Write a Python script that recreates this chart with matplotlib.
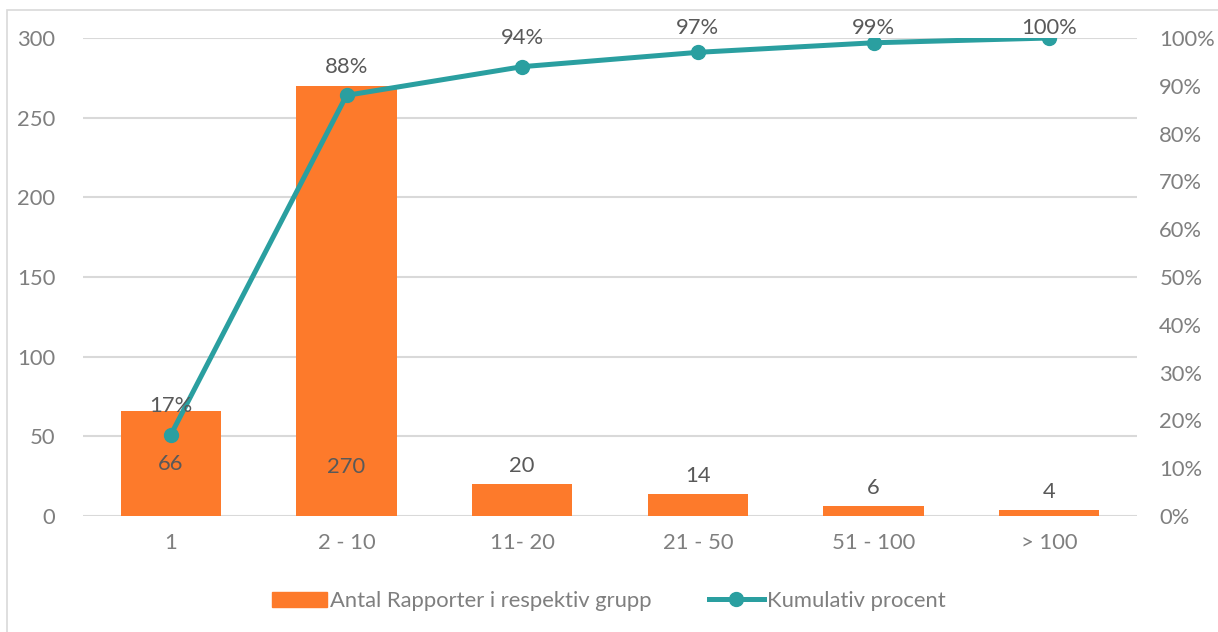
import matplotlib.pyplot as plt
from matplotlib.patches import Rectangle
from matplotlib.lines import Line2D
from matplotlib.patches import Patch

categories = ["1", "2 - 10", "11- 20", "21 - 50", "51 - 100", "> 100"]
antal = [66, 270, 20, 14, 6, 4]
kumulativ = [0.17, 0.88, 0.94, 0.97, 0.99, 1.00]
pct_labels = ["17%", "88%", "94%", "97%", "99%", "100%"]

orange = "#FD7A2B"
teal = "#2A9FA0"
grid = "#D9D9D9"
txt = "#7F7F7F"
lbl = "#595959"
fs = 15.8

plt.rcParams['font.family'] = ['Lato', 'DejaVu Sans']

fig = plt.figure(figsize=(12.18, 6.32), dpi=100)
ax = fig.add_axes([83/1218, 1 - 516/632, (1137 - 83)/1218, (516 - 38)/632])

# light frame round the chart
fig.patches.append(Rectangle((7/1218, -0.05), 1.2, 1 - 10/632 + 0.05, transform=fig.transFigure,
                             fill=False, edgecolor="#D9D9D9", lw=1.2))

x = list(range(len(categories)))
ax.bar(x, antal, width=0.57, color=orange, zorder=2)
ax.set_ylim(0, 300)
ax.set_xlim(-0.5, len(categories) - 0.5)
ax.set_yticks(range(0, 301, 50))
ax.yaxis.grid(True, color=grid, lw=1.5, zorder=0)
ax.set_axisbelow(True)
for s in ax.spines.values():
    s.set_visible(False)
ax.tick_params(length=0, labelsize=fs, colors=txt, pad=20)
ax.tick_params(axis='x', pad=12)
ax.set_xticks(x)
ax.set_xticklabels(categories)

# bar value labels
for i, v in enumerate(antal):
    if i == 0:
        ax.annotate(str(v), (i, v), xytext=(0, -38), textcoords="offset points",
                    ha="center", va="center", fontsize=fs, color=lbl, zorder=5)
    elif i == 1:
        ax.annotate(str(v), (i, 0), xytext=(0, 35), textcoords="offset points",
                    ha="center", va="center", fontsize=fs, color=lbl, zorder=5)
    else:
        ax.annotate(str(v), (i, v), xytext=(0, 13), textcoords="offset points",
                    ha="center", va="center", fontsize=fs, color=lbl, zorder=5)

ax2 = ax.twinx()
ax2.set_position(ax.get_position())
ax2.plot(x, kumulativ, color=teal, lw=3.6, marker="o", markersize=10, zorder=4)
ax2.set_ylim(0, 1)
ax2.set_yticks([i / 10 for i in range(11)])
ax2.set_yticklabels([f"{i * 10}%" for i in range(11)])
for s in ax2.spines.values():
    s.set_visible(False)
ax2.tick_params(length=0, labelsize=fs, colors=txt, pad=16)

for i, (p, lab) in enumerate(zip(kumulativ, pct_labels)):
    ax2.text(i, min(p + 0.06, 1.02), lab, ha="center", va="center",
             fontsize=fs, color=lbl, zorder=6)

handles = [Patch(facecolor=orange, edgecolor=orange),
           Line2D([0], [0], color=teal, lw=3.6, marker="o", markersize=10)]
fig.legend(handles, ["Antal Rapporter i respektiv grupp", "Kumulativ procent"],
           loc="center", bbox_to_anchor=(0.5, 1 - 601/632), ncol=2, frameon=False,
           fontsize=fs, labelcolor=txt, handlelength=2.5, handletextpad=0.15,
           columnspacing=2.6)

fig.savefig("out.png", dpi=100)
